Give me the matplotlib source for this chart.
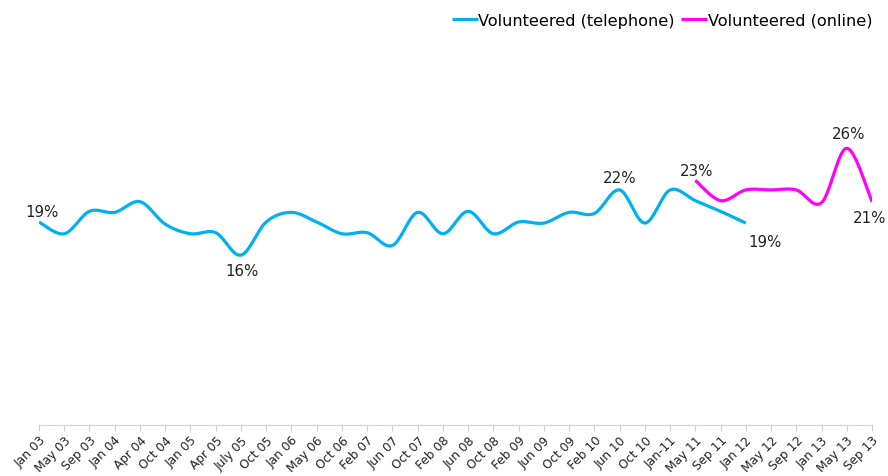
import numpy as np
import matplotlib.pyplot as plt

months = ['Jan 03', 'May 03', 'Sep 03', 'Jan 04', 'Apr 04', 'Oct 04', 'Jan 05', 'Apr 05',
          'July 05', 'Oct 05', 'Jan 06', 'May 06', 'Oct 06', 'Feb 07', 'Jun 07', 'Oct 07',
          'Feb 08', 'Jun 08', 'Oct 08', 'Feb 09', 'Jun 09', 'Oct 09', 'Feb 10', 'Jun 10',
          'Oct 10', 'Jan-11', 'May 11', 'Sep 11', 'Jan 12', 'May 12', 'Sep 12', 'Jan 13',
          'May 13', 'Sep 13']

# telephone runs Jan 03 .. Jan 12
telephone = [19.0, 17.9, 20.0, 19.9, 20.9, 18.8, 17.9, 18.0, 15.9, 19.0, 19.9, 19.0,
             17.9, 18.0, 16.8, 19.9, 17.9, 20.0, 17.9, 19.0, 18.9, 19.9, 19.8, 22.0,
             18.9, 22.0, 21.0, 20.0, 18.9]
# online runs May 11 .. Sep 13
online = [22.9, 21.0, 22.0, 22.0, 22.0, 20.8, 25.9, 20.9]
online_start = 26

BLUE = '#00B0F0'
PINK = '#FF00FF'


def smooth(xs, ys, n=20):
    # excel style smoothed line: bezier segments, control points from neighbours
    xs = np.asarray(xs, float)
    ys = np.asarray(ys, float)
    px, py = [], []
    m = len(xs)
    for i in range(m - 1):
        i0 = max(i - 1, 0)
        i3 = min(i + 2, m - 1)
        c1x = xs[i] + (xs[i + 1] - xs[i0]) / 6
        c1y = ys[i] + (ys[i + 1] - ys[i0]) / 6
        c2x = xs[i + 1] - (xs[i3] - xs[i]) / 6
        c2y = ys[i + 1] - (ys[i3] - ys[i]) / 6
        t = np.linspace(0, 1, n)
        px.extend((1 - t) ** 3 * xs[i] + 3 * (1 - t) ** 2 * t * c1x + 3 * (1 - t) * t ** 2 * c2x + t ** 3 * xs[i + 1])
        py.extend((1 - t) ** 3 * ys[i] + 3 * (1 - t) ** 2 * t * c1y + 3 * (1 - t) * t ** 2 * c2y + t ** 3 * ys[i + 1])
    return px, py


fig = plt.figure(figsize=(8.88, 4.77), dpi=100)
ax = fig.add_axes([39 / 888, 51 / 477, (872 - 39) / 888, 0.672])

tx = np.arange(len(telephone))
ox = np.arange(online_start, online_start + len(online))

sx, sy = smooth(tx, telephone)
ax.plot(sx, sy, color=BLUE, lw=2.3, label='Volunteered (telephone)', solid_capstyle='butt')
sx, sy = smooth(ox, online)
ax.plot(sx, sy, color=PINK, lw=2.3, label='Volunteered (online)', solid_capstyle='butt')

# data labels
lab_kw = dict(textcoords='offset points', ha='center', fontsize=10.8, color='#222222',
              annotation_clip=False)
ax.annotate('19%', (0, telephone[0]), xytext=(2, 2), va='bottom', **lab_kw)
ax.annotate('16%', (8, telephone[8]), xytext=(1, -5.5), va='top', **lab_kw)
ax.annotate('22%', (23, telephone[23]), xytext=(0, 3.5), va='bottom', **lab_kw)
ax.annotate('19%', (28, telephone[28]), xytext=(14, -8), va='top', **lab_kw)
ax.annotate('23%', (online_start, online[0]), xytext=(1, 2), va='bottom', **lab_kw)
ax.annotate('26%', (32, online[6]), xytext=(1, 5), va='bottom', **lab_kw)
ax.annotate('21%', (33, online[7]), xytext=(-2, -6), va='top', **lab_kw)

ax.set_xlim(0, len(months) - 1)
ax.set_ylim(0, 30)
ax.set_xticks(range(len(months)))
ax.set_xticklabels(months, rotation=45, ha='right', rotation_mode='anchor', fontsize=8.7,
                   color='#222222')
ax.set_yticks([])
for s in ['left', 'right', 'top']:
    ax.spines[s].set_visible(False)
ax.spines['bottom'].set_color('#d0d0d0')
ax.tick_params(axis='x', length=4, color='#d0d0d0', pad=2)

leg = fig.legend(loc='upper right', bbox_to_anchor=(0.997, 0.998), ncol=2, frameon=False,
                 fontsize=11.6, handlelength=1.6, handletextpad=0.05, columnspacing=0.4,
                 borderpad=0.3)

fig.savefig('out.png', dpi=100)
